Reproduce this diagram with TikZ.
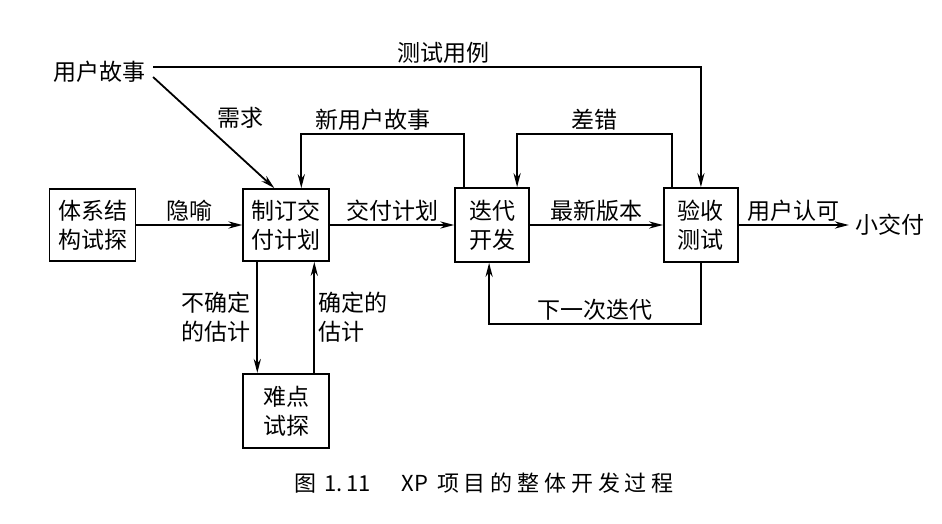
\documentclass[tikz,border=0pt]{standalone}
\usepackage{fontspec}
\usetikzlibrary{arrows.meta, positioning, calc}
\newfontfamily\cjk{Noto Sans CJK SC}
\newfontfamily\capfont[LetterSpace=22]{Noto Sans CJK SC}

\begin{document}
\begin{tikzpicture}[x=0.5pt, y=-0.5pt, >={Stealth[length=7pt, width=3.6pt]}, font=\cjk\fontsize{11.5}{14.5}\selectfont]
    \tikzset{block/.style = {rectangle, draw, line width=0.9pt, minimum width=43pt, minimum height=36pt, align=center, inner sep=2pt}}
    \tikzset{tag/.style = {inner sep=1.5pt}}
    \tikzset{arrow/.style = {draw, ->, line width=0.9pt}}
    \useasboundingbox (0,0) rectangle (942,524);

    % Process flow
    \node [block] (arch) at (92.5,225) {体系结\\构试探};
    \node [block, right=53pt of arch] (plan) {制订交\\付计划};
    \node [block, below=55.5pt of plan, minimum height=37pt] (probe) {难点\\试探};
    \node [block, right=62pt of plan, minimum width=37pt, minimum height=37pt] (iter) {迭代\\开发};
    \node [block, right=66.5pt of iter, minimum width=37pt, minimum height=37pt] (accept) {验收\\测试};
    \node [right=55pt of accept] (release) {小交付};
    \node (story) at (100,72) {用户故事};
    \node (caption) at (484,483) {\fontsize{11}{13}\selectfont 图\, 1.\,11\hspace{1.4em}XP\, \capfont 项目的整体开发过程};

    % Connections
    \draw [arrow] ([yshift=2.5pt]story.east) -| node [tag, pos=0.265, above] {测试用例} (accept.north);
    \draw [arrow] ([yshift=-2.5pt]story.east) -- node [tag, pos=0.5, above right] {需求} ([xshift=-6pt]plan.north);
    \draw [arrow] (arch) -- node [tag, above] {隐喻} (plan);
    \draw [arrow] (plan) -- node [tag, above] {交付计划} (iter);
    \draw [arrow] (iter) -- node [tag, above] {最新版本} (accept);
    \draw [arrow] (accept) -- node [tag, above] {用户认可} (release);
    \draw [arrow] ([xshift=-14pt]iter.north) -- ++(0,-53) -| node [tag, pos=0.28, above] {新用户故事} ([xshift=7.5pt]plan.north);
    \draw [arrow] ([xshift=-14.5pt]accept.north) -- ++(0,-53) -| node [tag, pos=0.25, above] {差错} ([xshift=12.5pt]iter.north);
    \draw [arrow] (accept.south) -- ++(0,61) -| node [tag, pos=0.25, above] {下一次迭代} ([xshift=-1.5pt]iter.south);
    \draw [arrow] ([xshift=-14.5pt]plan.south) -- node [tag, left, align=center, inner sep=3pt] {不确定\\的估计} ([xshift=-14.5pt]probe.north);
    \draw [arrow] ([xshift=14pt]probe.north) -- node [tag, right, align=left] {确定的\\估计} ([xshift=14pt]plan.south);
\end{tikzpicture}
\end{document}
